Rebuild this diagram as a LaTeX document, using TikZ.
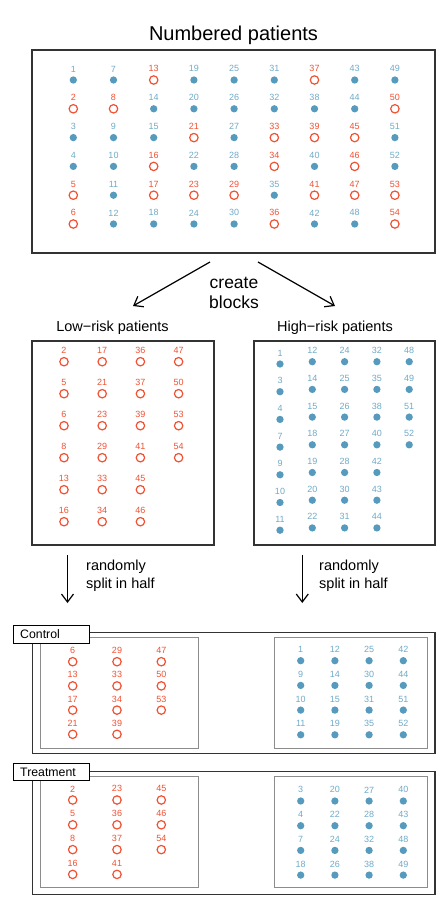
\documentclass[tikz,border=0pt]{standalone}
\usepackage{fontspec}
\setmainfont{Liberation Sans}
\usetikzlibrary{arrows.meta}
\definecolor{riskred}{HTML}{F05133}
\definecolor{riskblue}{HTML}{569BBD}
\begin{document}
\begin{tikzpicture}[x=1pt,y=-1pt,
	low/.style={circle,draw=riskred,line width=1.2pt,inner sep=0pt,minimum size=8.4pt,
		label={[text=riskred,font=\fontsize{9}{9}\selectfont,inner sep=0pt,label distance=3pt]above:#1}},
	high/.style={circle,fill=riskblue,inner sep=0pt,minimum size=7.3pt,
		label={[text=riskblue!85,font=\fontsize{9}{9}\selectfont,inner sep=0pt,label distance=3.9pt]above:#1}},
	frame/.style={draw=black!80,line width=1.2pt},
	inner/.style={draw=black!45,line width=1pt},
	caption/.style={font=\fontsize{14.5}{17.5}\selectfont,inner sep=0pt},
	tag/.style={draw,fill=white,line width=1pt,anchor=west,minimum height=17.6pt,
		text width=62.6pt,inner xsep=7pt,align=left,font=\fontsize{12.3}{14}\selectfont},
	blockarrow/.style={-{Straight Barb[length=8pt,width=12pt]},line width=1.2pt}]
	\useasboundingbox (0,0) rectangle (447,900);
	% all patients
	\node[font=\fontsize{20}{24}\selectfont,anchor=base] (title) at (233.5,40.5) {Numbered patients};
	\draw[frame] (32,50) rectangle (435,253);
	\foreach \kinds [count=\c from 0] in {{high,low,high,high,low,low},{high,low,high,high,high,high},
		{low,high,high,low,low,high},{high,high,low,high,low,high},{high,high,high,high,low,high},
		{high,high,low,low,high,low},{low,high,low,high,low,high},{high,high,low,low,low,high},
		{high,low,high,high,low,low}}
		\foreach \k [count=\r from 0] in \kinds {
			\pgfmathtruncatemacro\n{6*\c+\r+1}
			\node[\k=\n] (all-\n) at ({73.3+40.2*\c},{80+28.8*\r}) {};
		}
	% blocks
	\coordinate (fork-l) at (210,262);
	\coordinate (fork-r) at (258,262);
	\coordinate (end-l) at (133,306);
	\coordinate (end-r) at (335,306);
	\draw[blockarrow] (fork-l)--(end-l);
	\draw[blockarrow] (fork-r)--(end-r);
	\node[font=\fontsize{17.5}{20}\selectfont,align=center,anchor=base,inner sep=0pt] (create) at (234,308.3) {create\\blocks};
	\node[caption,anchor=base] (low-title) at (112.5,331) {Low−risk patients};
	\node[caption,anchor=base] (high-title) at (335,331) {High−risk patients};
	\draw[frame] (32,341) rectangle (214,545);
	\draw[frame] (254,341) rectangle (435,545);
	\foreach \ids [count=\c from 0] in {{2,5,6,8,13,16},{17,21,23,29,33,34},{36,37,39,41,45,46},{47,50,53,54}}
		\foreach \n [count=\r from 0] in \ids
			\node[low=\n] (lr-\n) at ({64+38.2*\c},{361.7+32*\r}) {};
	\foreach \dy/\ids [count=\c from 0] in {2.3/{1,3,4,7,9,10,11},0/{12,14,15,18,19,20,22},
		0/{24,25,26,27,28,30,31},0/{32,35,38,40,42,43,44},0/{48,49,51,52}}
		\foreach \n [count=\r from 0] in \ids
			\node[high=\n] (hr-\n) at ({280+32.3*\c},{361.7+\dy+27.7*\r}) {};
	% split
	\coordinate (down-l) at (67.5,555);
	\coordinate (tip-l) at (67.5,603);
	\coordinate (down-r) at (302.3,555);
	\coordinate (tip-r) at (302.3,603);
	\draw[blockarrow] (down-l)--(tip-l);
	\draw[blockarrow] (down-r)--(tip-r);
	\node[caption,align=left,anchor=base west] (split-l) at (86,588.3) {randomly\\split in half};
	\node[caption,align=left,anchor=base west] (split-r) at (319,588.3) {randomly\\split in half};
	% control
	\draw[frame] (32.7,632.3) rectangle (435,753.3);
	\draw[inner] (40.7,637.3) rectangle (198.7,748.3);
	\draw[inner] (274,637.3) rectangle (427.7,748.3);
	\foreach \ids [count=\c from 0] in {{6,13,17,21},{29,33,34,39},{47,50,53}}
		\foreach \n [count=\r from 0] in \ids
			\node[low=\n] (ctl-\n) at ({72.7+44.3*\c},{661.7+24.2*\r}) {};
	\foreach \ids [count=\c from 0] in {{1,9,10,11},{12,14,15,19},{25,30,31,35},{42,44,51,52}}
		\foreach \n [count=\r from 0] in \ids
			\node[high=\n] (ctl-\n) at ({300.7+34.2*\c},{660.7+24.7*\r}) {};
	\node[tag] (ctl-tag) at (12.7,634.5) {Control};
	% treatment
	\draw[frame] (32.7,771.7) rectangle (435,894.3);
	\draw[inner] (40.7,776.7) rectangle (198.7,887.7);
	\draw[inner] (274,776.7) rectangle (427.7,887.7);
	\foreach \ids [count=\c from 0] in {{2,5,8,16},{23,36,37,41},{45,46,54}}
		\foreach \n [count=\r from 0] in \ids
			\node[low=\n] (trt-\n) at ({72.7+44.3*\c},{800+24.8*\r}) {};
	\foreach \ids [count=\c from 0] in {{3,4,7,18},{20,22,24,26},{27,28,32,38},{40,43,48,49}}
		\foreach \n [count=\r from 0] in \ids
			\node[high=\n] (trt-\n) at ({300.7+34.2*\c},{801+24.7*\r}) {};
	\node[tag] (trt-tag) at (12.7,772) {Treatment};
\end{tikzpicture}
\end{document}
